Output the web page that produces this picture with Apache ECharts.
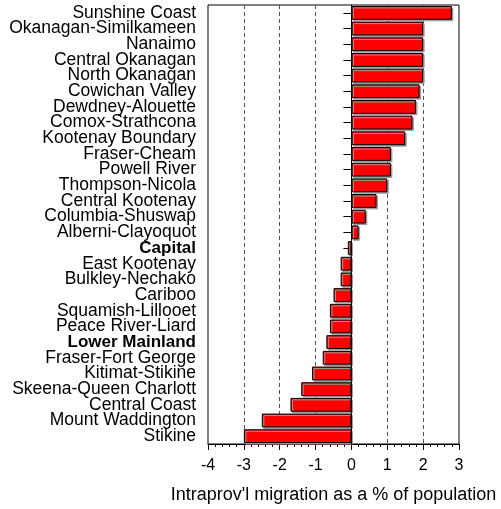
<!DOCTYPE html>
<html lang="en">
<head>
    <meta charset="utf-8">
    <title>Intraprovincial migration</title>
    <script src="https://cdn.jsdelivr.net/npm/echarts@6/dist/echarts.min.js"></script>
    <style>
        html, body { margin: 0; padding: 0; background: #fff; }
        #chart { width: 501px; height: 509px; }
    </style>
</head>
<body>
    <div id="chart"></div>
    <script>
        // Regions, top to bottom
        const regions = [
            'Sunshine Coast', 'Okanagan-Similkameen', 'Nanaimo', 'Central Okanagan',
            'North Okanagan', 'Cowichan Valley', 'Dewdney-Alouette', 'Comox-Strathcona',
            'Kootenay Boundary', 'Fraser-Cheam', 'Powell River', 'Thompson-Nicola',
            'Central Kootenay', 'Columbia-Shuswap', 'Alberni-Clayoquot', 'Capital',
            'East Kootenay', 'Bulkley-Nechako', 'Cariboo', 'Squamish-Lillooet',
            'Peace River-Liard', 'Lower Mainland', 'Fraser-Fort George', 'Kitimat-Stikine',
            'Skeena-Queen Charlott', 'Central Coast', 'Mount Waddington', 'Stikine'
        ];
        const migration = [
            2.8, 2.0, 2.0, 2.0,
            2.0, 1.9, 1.8, 1.7,
            1.5, 1.1, 1.1, 1.0,
            0.7, 0.4, 0.2, -0.1,
            -0.3, -0.3, -0.5, -0.6,
            -0.6, -0.7, -0.8, -1.1,
            -1.4, -1.7, -2.5, -3.0
        ];
        const boldRegions = ['Capital', 'Lower Mainland'];
        const axisTitle = "Intraprov'l migration as a % of population";

        const chart = echarts.init(document.getElementById('chart'));

        // dashed grid lines only inside the frame (-3..2), ends hidden under border
        const gridColors = ['rgba(0,0,0,0)', '#555', '#555', '#555', '#555', '#555', '#555', 'rgba(0,0,0,0)'];

        chart.setOption({
            animation: false,
            textStyle: { fontFamily: 'Liberation Sans, Arial, sans-serif', color: '#000' },
            grid: {
                left: 208, right: 42, top: 5, bottom: 63,
                show: true, borderColor: '#000', borderWidth: 1, backgroundColor: '#fff'
            },
            xAxis: {
                type: 'value',
                min: -4, max: 3, interval: 1,
                name: axisTitle,
                nameLocation: 'middle',
                nameGap: 42,
                nameTextStyle: { fontSize: 18, color: '#000' },
                axisLine: { show: true, lineStyle: { color: '#000', width: 1 } },
                axisTick: { show: true, length: 6, lineStyle: { color: '#000' } },
                minorTick: { show: true, splitNumber: 5, length: 3, lineStyle: { color: '#000' } },
                axisLabel: { fontSize: 16, color: '#000', margin: 14 },
                splitLine: {
                    show: true,
                    lineStyle: { color: gridColors, type: [4, 3], width: 1 }
                }
            },
            yAxis: {
                type: 'category',
                data: regions,
                inverse: true,
                axisLine: { show: true, lineStyle: { color: '#000' } },
                axisTick: { show: true, alignWithLabel: true, length: 8, lineStyle: { color: '#000' } },
                axisLabel: {
                    interval: 0,
                    margin: 12,
                    fontSize: 17.5,
                    color: '#000',
                    formatter: v => boldRegions.includes(v) ? '{b|' + v + '}' : v,
                    rich: { b: { fontWeight: 'bold', fontSize: 17, color: '#000' } }
                },
                splitLine: { show: false }
            },
            series: [{
                type: 'bar',
                data: migration,
                barCategoryGap: '12%',
                itemStyle: {
                    color: '#ff0000',
                    borderColor: '#000',
                    borderWidth: 1,
                    shadowColor: '#999',
                    shadowOffsetX: 1.5,
                    shadowOffsetY: 1.5,
                    shadowBlur: 0
                },
                markLine: {
                    silent: true,
                    symbol: 'none',
                    label: { show: false },
                    lineStyle: { color: '#000', type: 'solid', width: 1 },
                    data: [{ xAxis: 0 }]
                }
            }]
        });
    </script>
</body>
</html>
